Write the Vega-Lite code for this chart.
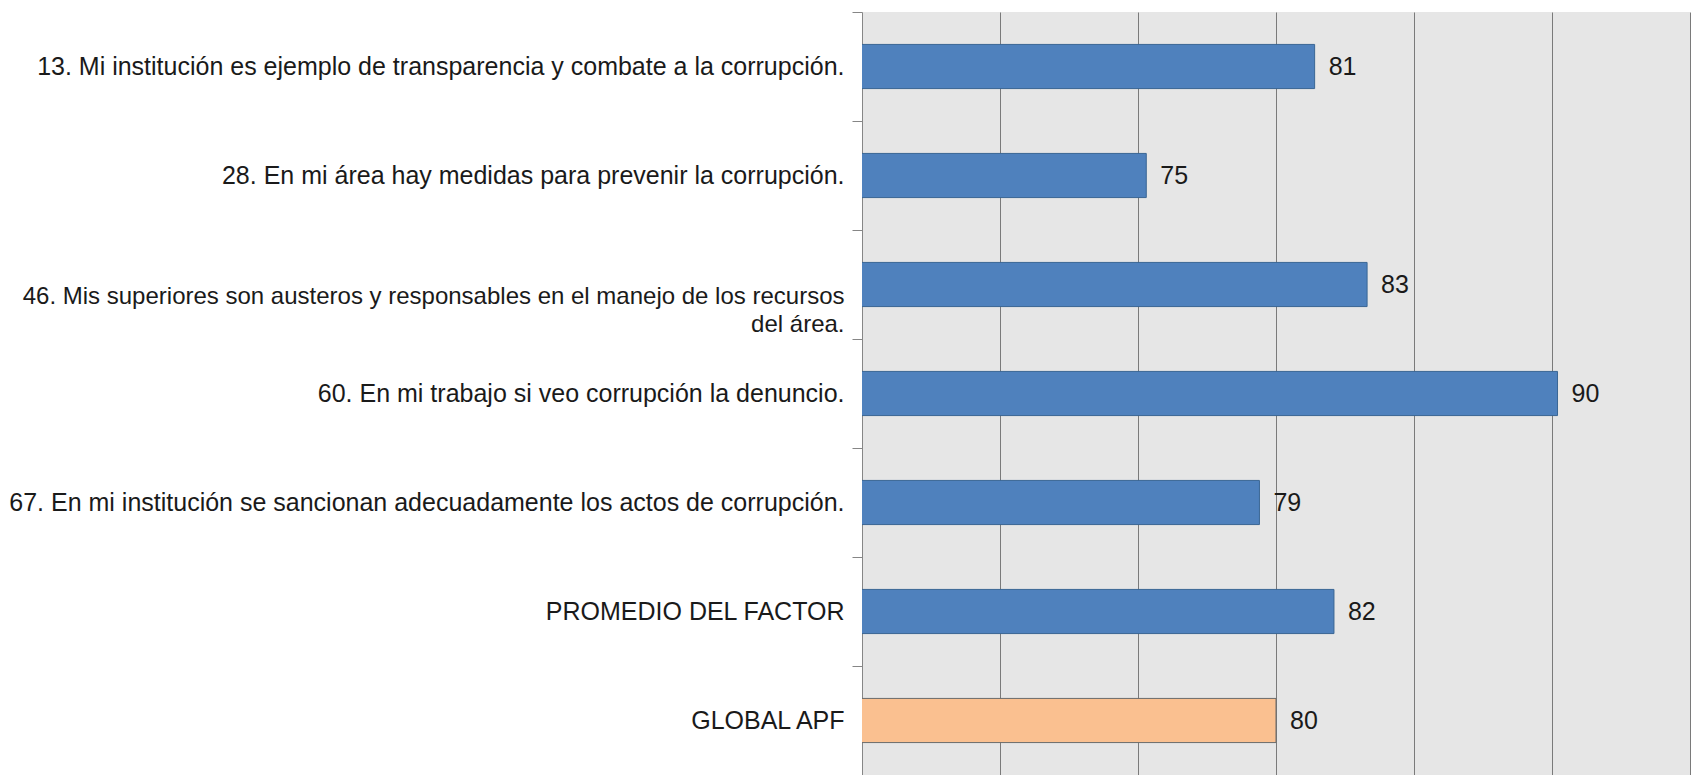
{
  "$schema": "https://vega.github.io/schema/vega-lite/v6.json",
  "autosize": {"type": "none"},
  "width": 828,
  "height": 763,
  "padding": {"left": 862, "top": 12, "right": 1, "bottom": 0},
  "background": "white",
  "config": {
    "view": {"fill": "#E6E6E6", "stroke": null},
    "font": "Liberation Sans"
  },
  "data": {
    "values": [
      {"pregunta": "13. Mi institución es ejemplo de transparencia y combate a la corrupción.", "valor": 81.4, "grupo": "Factor"},
      {"pregunta": "28. En mi área hay medidas para prevenir la corrupción.", "valor": 75.3, "grupo": "Factor"},
      {"pregunta": "46. Mis superiores son austeros y responsables en el manejo de los recursos del área.", "valor": 83.3, "grupo": "Factor"},
      {"pregunta": "60. En mi trabajo si veo corrupción la denuncio.", "valor": 90.2, "grupo": "Factor"},
      {"pregunta": "67. En mi institución se sancionan adecuadamente los actos de corrupción.", "valor": 79.4, "grupo": "Factor"},
      {"pregunta": "PROMEDIO DEL FACTOR", "valor": 82.1, "grupo": "Factor"},
      {"pregunta": "GLOBAL APF", "valor": 80.0, "grupo": "Global"}
    ]
  },
  "encoding": {
    "y": {
      "field": "pregunta",
      "type": "nominal",
      "sort": null,
      "scale": {"paddingInner": 0, "paddingOuter": 0},
      "axis": {
        "title": null,
        "labelFont": "Liberation Sans",
        "labelFontSize": {"condition": {"test": "datum.value == '46. Mis superiores son austeros y responsables en el manejo de los recursos del área.'", "value": 24}, "value": 25},
        "labelColor": "#1a1a1a",
        "labelLimit": 900,
        "labelPadding": 8,
        "labelLineHeight": 28,
        "labelBaseline": {"condition": {"test": "datum.value == '46. Mis superiores son austeros y responsables en el manejo de los recursos del área.'", "value": "top"}, "value": "middle"},
        "labelExpr": "datum.value == '46. Mis superiores son austeros y responsables en el manejo de los recursos del área.' ? ['46. Mis superiores son austeros y responsables en el manejo de los recursos', 'del área.'] : datum.label",
        "tickBand": "extent",
        "tickSize": 10,
        "tickColor": "#868686",
        "domainColor": "#868686",
        "domainWidth": 1,
        "grid": false
      }
    },
    "x": {
      "field": "valor",
      "type": "quantitative",
      "scale": {"domain": [65, 95], "zero": false, "nice": false},
      "axis": {
        "title": null,
        "labels": false,
        "ticks": false,
        "domain": false,
        "grid": true,
        "values": [70, 75, 80, 85, 90, 95],
        "gridColor": "#7a7a7a",
        "gridWidth": 1
      }
    }
  },
  "layer": [
    {
      "mark": {"type": "bar", "height": {"band": 0.405}, "strokeWidth": 1, "clip": true},
      "encoding": {
        "color": {
          "field": "grupo",
          "type": "nominal",
          "scale": {"domain": ["Factor", "Global"], "range": ["#4F81BD", "#FAC090"]},
          "legend": null
        },
        "stroke": {
          "field": "grupo",
          "type": "nominal",
          "scale": {"domain": ["Factor", "Global"], "range": ["#3A6694", "#6b6b6b"]},
          "legend": null
        }
      }
    },
    {
      "mark": {"type": "text", "align": "left", "baseline": "middle", "dx": 14, "fontSize": 25, "font": "Liberation Sans", "color": "#1a1a1a"},
      "encoding": {
        "text": {"field": "valor", "type": "quantitative", "format": ".0f"}
      }
    }
  ]
}
